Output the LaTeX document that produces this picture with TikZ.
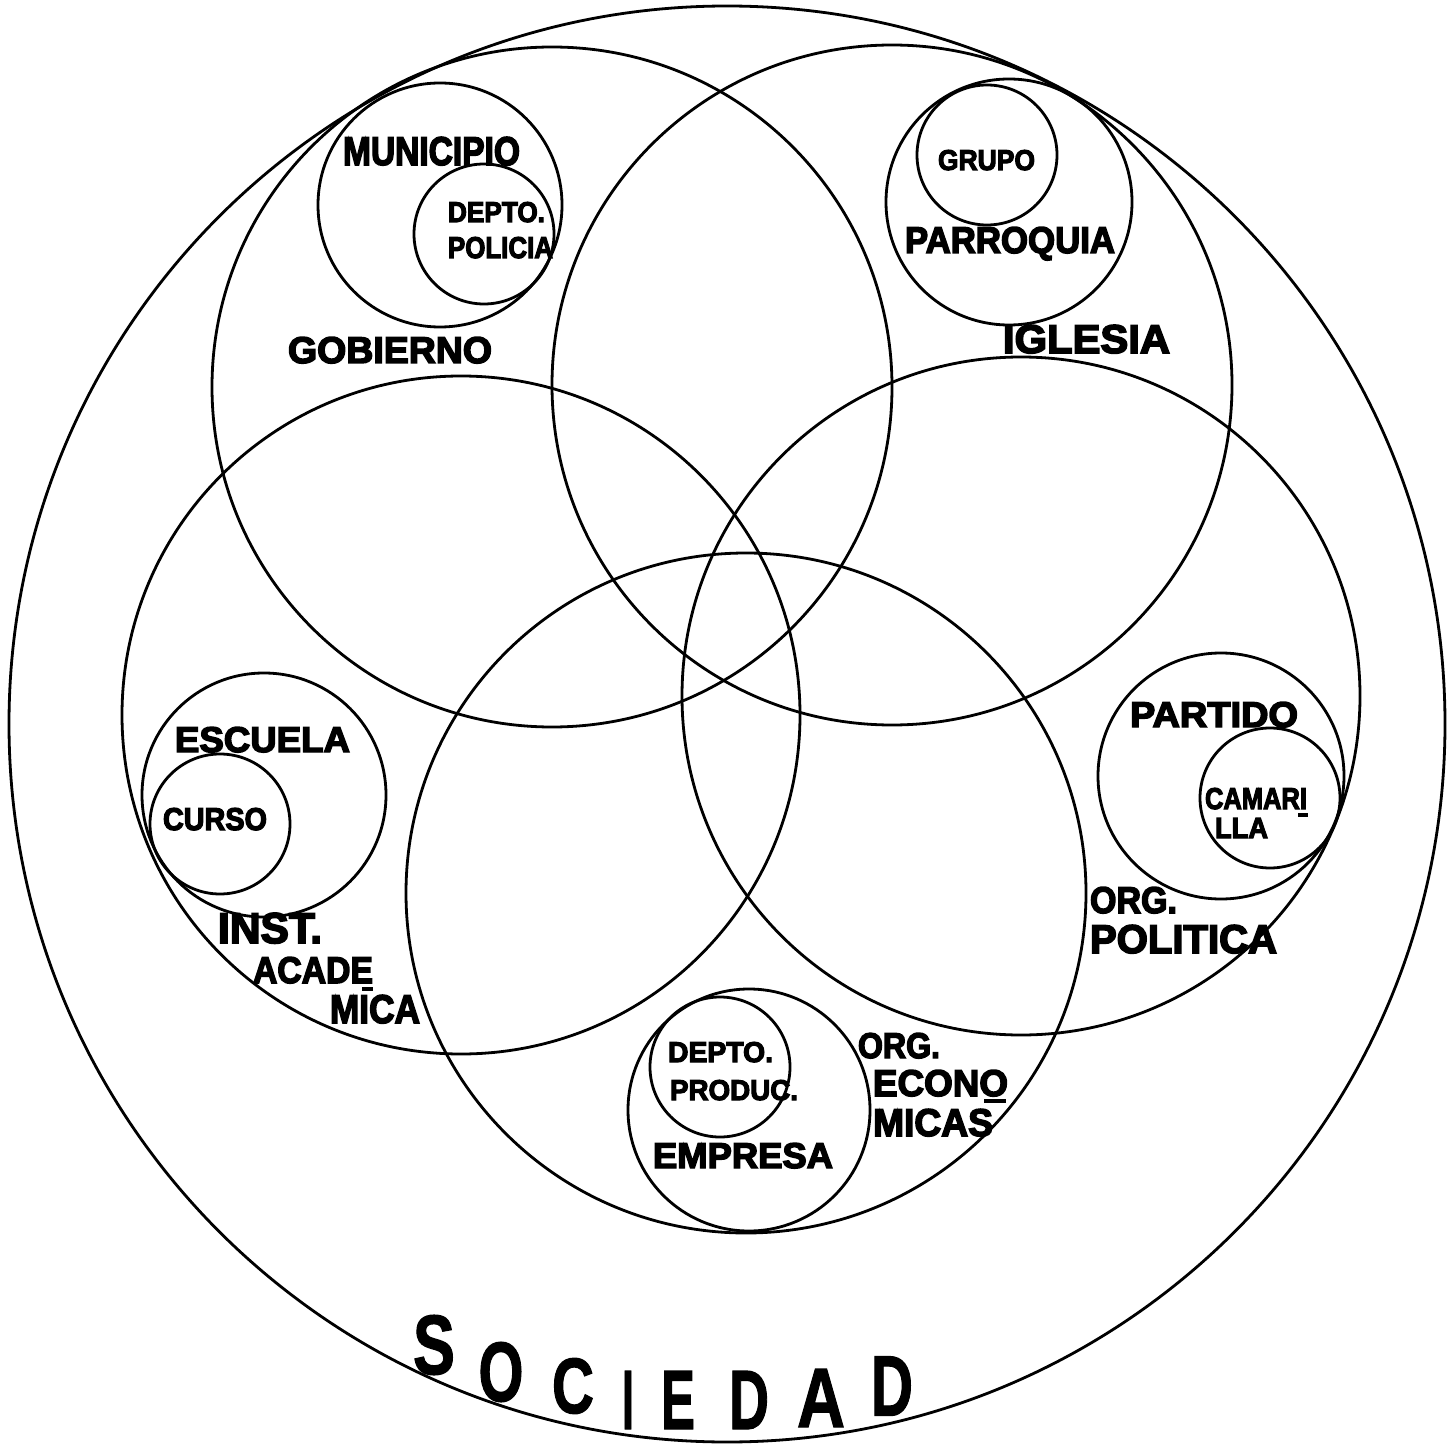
\documentclass[tikz,border=0pt]{standalone}
\usepackage{fontspec}
\setmainfont{Liberation Sans}
\newfontfamily\heavy[FakeBold=4]{Liberation Sans Bold}
\newfontfamily\medium[FakeBold=1.5]{Liberation Sans Bold}
\usepackage{graphicx}
\newlength{\px}\setlength{\px}{0.5pt}
\newcommand{\lbl}[3]{\resizebox{#1\px}{#2\px}{\heavy #3}}
\newcommand{\soc}[3]{\resizebox{#1\px}{#2\px}{\medium #3}}
\tikzset{
  ring/.style={draw=black,line width=1.4pt},
  lab/.style={inner sep=0pt,outer sep=0pt,anchor=base west},
  big/.style={inner sep=0pt,outer sep=0pt,anchor=center},
  hyph/.style={line width=1.6pt}
}
\begin{document}
\begin{tikzpicture}[x=0.5pt,y=-0.5pt]
\useasboundingbox (0,0) rectangle (1451,1444);
% society
\draw[ring] (727,724) circle [radius=718];
% five institutions
\draw[ring] (552,387) circle [radius=340];
\draw[ring] (892,385) circle [radius=340];
\draw[ring] (461,715) circle [radius=339];
\draw[ring] (1021,696) circle [radius=339];
\draw[ring] (746,893) circle [radius=340];
% inner circles
\draw[ring] (440,205) circle [radius=122];
\draw[ring] (484,234) circle [radius=70];
\draw[ring] (1009,202) circle [radius=123];
\draw[ring] (987,155) circle [radius=70];
\draw[ring] (264,795) circle [radius=122];
\draw[ring] (220,824) circle [radius=70];
\draw[ring] (1221,776) circle [radius=123];
\draw[ring] (1270,798) circle [radius=70];
\draw[ring] (749,1110) circle [radius=121];
\draw[ring] (720,1067) circle [radius=70];
% labels
\node[lab] (mun) at (343,165) {\lbl{177}{28}{MUNICIPIO}};
\node[lab] (dp1) at (448,222) {\lbl{97}{20}{DEPTO.}};
\node[lab] (pol) at (448,258) {\lbl{105}{21}{POLICIA}};
\node[lab] (gru) at (938,170) {\lbl{97}{20}{GRUPO}};
\node[lab] (par) at (905,253) {\lbl{210}{26}{PARROQUIA}};
\node[lab] (gob) at (288,363) {\lbl{204}{26}{GOBIERNO}};
\node[lab] (igl) at (1003,353) {\lbl{167}{28}{IGLESIA}};
\node[lab] (esc) at (175,752) {\lbl{175}{25}{ESCUELA}};
\node[lab] (cur) at (163,830) {\lbl{104}{22}{CURSO}};
\node[lab] (ins) at (218,943) {\lbl{104}{30}{INST.}};
\node[lab] (aca) at (253,983) {\lbl{120}{26}{ACADE}};
\node[lab] (mic) at (330,1023) {\lbl{90}{28}{MICA}};
\node[lab] (pti) at (1130,727) {\lbl{168}{25}{PARTIDO}};
\node[lab] (cam) at (1205,809) {\lbl{102}{21}{CAMARI}};
\node[lab] (lla) at (1215,838) {\lbl{53}{20}{LLA}};
\node[lab] (og1) at (1090,913) {\lbl{87}{26}{ORG.}};
\node[lab] (plt) at (1090,953) {\lbl{187}{28}{POLITICA}};
\node[lab] (dp2) at (668,1062) {\lbl{105}{20}{DEPTO.}};
\node[lab] (prd) at (670,1100) {\lbl{128}{20}{PRODUC.}};
\node[lab] (emp) at (653,1168) {\lbl{180}{25}{EMPRESA}};
\node[lab] (og2) at (858,1058) {\lbl{82}{25}{ORG.}};
\node[lab] (eco) at (873,1096) {\lbl{135}{26}{ECONO}};
\node[lab] (mcs) at (873,1136) {\lbl{120}{27}{MICAS}};
% hyphenation bars
\draw[hyph] (362,989) -- (373,989);
\draw[hyph] (1298,815) -- (1308,815);
\draw[hyph] (984,1101) -- (1006,1101);
% SOCIEDAD
\node[big] (s1) at (434,1345) {\soc{42}{59}{S}};
\node[big] (s2) at (501,1372) {\soc{45}{59}{O}};
\node[big] (s3) at (573,1386) {\soc{42}{55}{C}};
\node[big] (s4) at (628,1400) {\soc{12}{58}{I}};
\node[big] (s5) at (678,1400) {\soc{34}{58}{E}};
\node[big] (s6) at (749,1400) {\soc{40}{58}{D}};
\node[big] (s7) at (821,1398) {\soc{48}{58}{A}};
\node[big] (s8) at (892,1386) {\soc{42}{59}{D}};
\end{tikzpicture}
\end{document}
